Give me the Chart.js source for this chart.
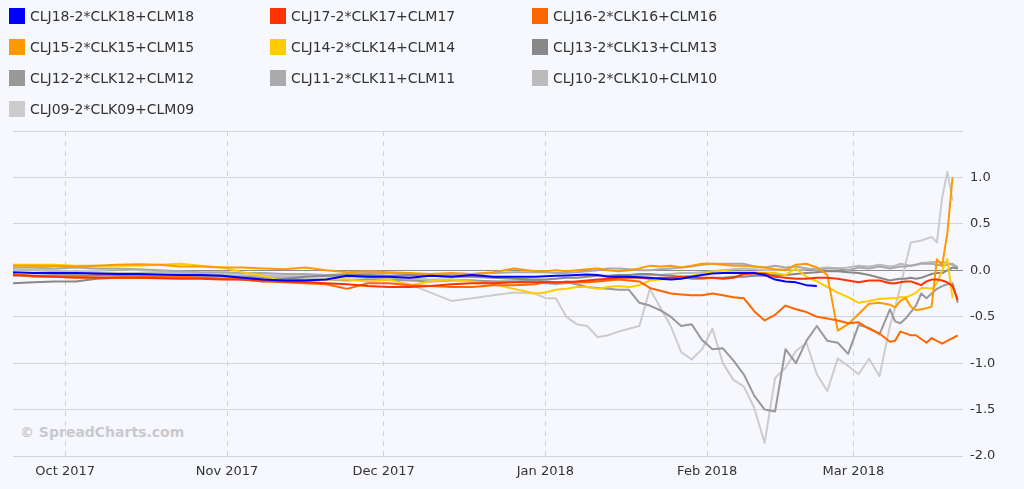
<!DOCTYPE html>
<html>
<head>
<meta charset="utf-8">
<script src="https://cdn.jsdelivr.net/npm/chart.js@4.4.1/dist/chart.umd.min.js"></script>
<style>
  html, body { margin: 0; padding: 0; background: #f7f8fd; }
  #wrap { position: relative; width: 1024px; height: 489px; overflow: hidden; }
  #mark { position: absolute; left: 20px; top: 424px; font: bold 14px "DejaVu Sans", Verdana, sans-serif; color: #c9c9ce; }
  #box { position: absolute; left: 0; top: 0; width: 1024px; height: 489px; }
  #legend { position: absolute; left: 0; top: 0; width: 1024px; height: 125px; font: 14px "DejaVu Sans", Verdana, sans-serif; color: #333; }
  .item { position: absolute; height: 16px; line-height: 16px; white-space: nowrap; }
  .item .sw { position: absolute; left: 0; top: 0; width: 16px; height: 16px; }
  .item .tx { position: absolute; left: 21px; top: 0; }
</style>
</head>
<body>
<div id="wrap">
  <div id="mark">© SpreadCharts.com</div>
  <div id="box"><canvas id="chart"></canvas></div>
  <div id="legend"></div>
</div>
<script>
// x values are calendar days counted from 2017-09-21
const days = [0, 4, 8, 12, 16, 20, 24, 28, 32, 36, 40, 44, 48, 52, 56, 60, 64, 68, 72, 76, 80, 84, 88, 92, 96, 100,
  102, 104, 106, 108, 110, 112, 114, 116, 118, 120, 122, 124, 126, 128, 130, 132, 134, 136, 138, 140, 142, 144, 146, 148,
  150, 152, 154, 156, 158, 160, 162, 164, 166, 168,
  169, 170, 171, 172, 173, 174, 175, 176, 177, 178, 179, 180, 181];

// month starts (days from 2017-09-21) and their labels
const monthDays = [10, 41, 71, 102, 133, 161];
const monthLabels = ['Oct 2017', 'Nov 2017', 'Dec 2017', 'Jan 2018', 'Feb 2018', 'Mar 2018'];

const seriesNames = ['CLJ18-2*CLK18+CLM18', 'CLJ17-2*CLK17+CLM17', 'CLJ16-2*CLK16+CLM16', 'CLJ15-2*CLK15+CLM15',
  'CLJ14-2*CLK14+CLM14', 'CLJ13-2*CLK13+CLM13', 'CLJ12-2*CLK12+CLM12', 'CLJ11-2*CLK11+CLM11',
  'CLJ10-2*CLK10+CLM10', 'CLJ09-2*CLK09+CLM09'];
const seriesColors = ['#0000ff', '#ff3300', '#ff6600', '#ff9900', '#ffcc00', '#888888', '#999999', '#aaaaaa', '#bbbbbb', '#cccccc'];

const clj18 = [-0.02, -0.03, -0.03, -0.03, -0.035, -0.04, -0.04, -0.045, -0.05, -0.05, -0.06, -0.08, -0.1, -0.11, -0.11, -0.1, -0.06, -0.07, -0.07, -0.08, -0.06, -0.07, -0.05, -0.07, -0.07, -0.07,
  -0.065, -0.06, -0.055, -0.05, -0.045, -0.05, -0.07, -0.07, -0.07, -0.075, -0.08, -0.09, -0.1, -0.09, -0.07, -0.05, -0.035, -0.03, -0.03, -0.03, -0.03, -0.05, -0.1, -0.12, -0.13, -0.16, -0.17, null, null, null, null, null, null, null,
  null, null, null, null, null, null, null, null, null, null, null, null, null];
const clj17 = [-0.05, -0.06, -0.07, -0.08, -0.08, -0.08, -0.08, -0.085, -0.09, -0.09, -0.1, -0.1, -0.11, -0.12, -0.13, -0.14, -0.15, -0.17, -0.18, -0.18, -0.17, -0.15, -0.14, -0.14, -0.13, -0.13,
  -0.13, -0.13, -0.13, -0.12, -0.11, -0.1, -0.09, -0.08, -0.08, -0.08, -0.09, -0.08, -0.08, -0.07, -0.07, -0.08, -0.08, -0.09, -0.08, -0.04, -0.035, -0.035, -0.07, -0.08, -0.09, -0.09, -0.08, -0.08, -0.09, -0.11, -0.13, -0.11, -0.11, -0.14,
  -0.14, -0.13, -0.12, -0.12, -0.14, -0.16, -0.12, -0.1, -0.1, -0.11, -0.13, -0.17, -0.32];
const clj16 = [-0.04, -0.07, -0.07, -0.07, -0.05, -0.06, -0.06, -0.07, -0.07, -0.08, -0.09, -0.1, -0.12, -0.13, -0.14, -0.15, -0.2, -0.14, -0.14, -0.16, -0.17, -0.18, -0.18, -0.16, -0.16, -0.15,
  -0.13, -0.14, -0.12, -0.13, -0.13, -0.12, -0.11, -0.1, -0.11, -0.12, -0.19, -0.22, -0.25, -0.26, -0.27, -0.27, -0.25, -0.27, -0.29, -0.3, -0.44, -0.54, -0.48, -0.38, -0.42, -0.45, -0.5, -0.52, -0.54, -0.57, -0.56, -0.63, -0.68, -0.77,
  -0.76, -0.66, -0.68, -0.7, -0.7, -0.74, -0.78, -0.73, -0.76, -0.79, -0.76, -0.73, -0.7];
const clj15 = [0.05, 0.05, 0.045, 0.04, 0.05, 0.06, 0.065, 0.06, 0.04, 0.04, 0.03, 0.03, 0.02, 0.01, 0.03, 0.0, -0.02, -0.01, -0.02, -0.03, -0.04, -0.03, -0.04, -0.02, 0.02, -0.01,
  -0.01, 0.0, -0.01, 0.0, 0.01, 0.02, 0.0, -0.01, 0.0, 0.02, 0.05, 0.04, 0.05, 0.03, 0.05, 0.07, 0.07, 0.06, 0.05, 0.05, 0.04, 0.03, 0.01, 0.0, 0.06, 0.07, 0.03, -0.05, -0.65, -0.58, -0.47, -0.36, -0.35, -0.37,
  -0.4, -0.33, -0.3, -0.39, -0.43, -0.42, -0.41, -0.39, 0.12, 0.05, 0.4, 1.0, null];
const clj14 = [0.06, 0.06, 0.06, 0.05, 0.05, 0.05, 0.05, 0.06, 0.07, 0.05, 0.03, -0.02, -0.06, -0.12, -0.12, -0.1, -0.1, -0.12, -0.1, -0.16, -0.12, -0.1, -0.12, -0.15, -0.2, -0.25,
  -0.24, -0.21, -0.2, -0.18, -0.18, -0.2, -0.18, -0.17, -0.18, -0.16, -0.11, -0.1, -0.09, -0.07, -0.06, -0.04, -0.02, 0.0, -0.02, -0.02, -0.02, -0.03, -0.03, -0.05, 0.02, -0.07, -0.12, -0.18, -0.24, -0.29, -0.35, -0.33, -0.31, -0.3,
  -0.3, -0.29, -0.29, -0.27, -0.24, -0.19, -0.19, -0.2, -0.14, 0.0, 0.12, -0.3, null];
const clj13 = [-0.14, -0.13, -0.12, -0.12, -0.09, -0.08, -0.08, -0.07, -0.07, -0.06, -0.06, -0.1, -0.12, -0.09, -0.07, -0.06, -0.05, -0.05, -0.06, -0.05, -0.06, -0.07, -0.07, -0.08, -0.09, -0.1,
  -0.1, -0.09, -0.08, -0.08, -0.07, -0.06, -0.06, -0.05, -0.05, -0.04, -0.04, -0.05, -0.06, -0.07, -0.09, -0.09, -0.08, -0.08, -0.07, -0.07, -0.06, -0.06, -0.05, -0.05, -0.04, -0.03, -0.02, -0.01, -0.01, -0.02, -0.03, -0.05, -0.08, -0.11,
  -0.1, -0.09, -0.09, -0.08, -0.09, -0.08, -0.06, -0.04, -0.03, -0.03, 0.0, 0.03, 0.02];
const clj12 = [-0.06, -0.06, -0.05, -0.05, -0.06, -0.05, -0.06, -0.06, -0.06, -0.07, -0.07, -0.07, -0.08, -0.09, -0.1, -0.1, -0.11, -0.1, -0.1, -0.11, -0.12, -0.11, -0.11, -0.12, -0.12, -0.11,
  -0.12, -0.13, -0.13, -0.15, -0.18, -0.19, -0.2, -0.21, -0.21, -0.35, -0.38, -0.43, -0.5, -0.6, -0.58, -0.75, -0.85, -0.84, -0.97, -1.12, -1.35, -1.5, -1.52, -0.85, -1.0, -0.76, -0.6, -0.76, -0.78, -0.9, -0.59, -0.62, -0.69, -0.42,
  -0.55, -0.57, -0.52, -0.45, -0.38, -0.25, -0.3, -0.25, -0.2, -0.17, -0.15, -0.14, -0.35];
const clj11 = [0.03, 0.03, 0.02, 0.03, 0.02, 0.02, 0.01, 0.0, -0.01, -0.02, -0.02, -0.03, -0.03, -0.04, -0.04, -0.05, -0.04, -0.03, -0.03, -0.04, -0.05, -0.05, -0.04, -0.03, -0.02, -0.02,
  -0.02, -0.03, -0.03, -0.02, -0.01, 0.0, 0.02, 0.02, 0.01, 0.0, 0.0, 0.01, 0.02, 0.03, 0.04, 0.06, 0.07, 0.07, 0.07, 0.07, 0.04, 0.03, 0.05, 0.03, 0.04, 0.02, 0.0, 0.02, 0.02, 0.0, 0.03, 0.02, 0.04, 0.02,
  0.03, 0.04, 0.04, 0.05, 0.06, 0.07, 0.07, 0.07, 0.06, 0.05, 0.06, 0.07, 0.02];
const clj10 = [0.01, 0.0, -0.01, -0.02, -0.02, -0.03, -0.03, -0.02, -0.03, -0.04, -0.05, -0.06, -0.06, -0.07, -0.07, -0.06, -0.06, -0.07, -0.08, -0.09, -0.1, -0.1, -0.11, -0.12, -0.12, -0.13,
  -0.14, -0.15, -0.14, -0.13, -0.12, -0.11, -0.1, -0.08, -0.07, -0.06, -0.05, -0.05, -0.04, -0.03, -0.03, -0.02, -0.01, 0.0, 0.01, 0.02, 0.01, 0.0, 0.0, 0.01, 0.0, 0.01, 0.02, 0.03, 0.02, 0.03, 0.05, 0.04, 0.06, 0.04,
  0.05, 0.07, 0.06, 0.05, 0.06, 0.08, 0.08, 0.09, 0.09, 0.09, 0.08, 0.06, 0.04];
const clj09 = [0.0, 0.01, 0.0, -0.01, 0.0, 0.01, 0.0, -0.01, -0.02, -0.03, -0.03, -0.04, -0.05, -0.06, -0.06, -0.07, -0.08, -0.08, -0.1, -0.15, -0.24, -0.33, -0.3, -0.27, -0.24, -0.25,
  -0.3, -0.3, -0.5, -0.58, -0.6, -0.72, -0.7, -0.66, -0.63, -0.6, -0.2, -0.4, -0.6, -0.88, -0.96, -0.85, -0.63, -1.0, -1.18, -1.25, -1.48, -1.86, -1.16, -1.05, -0.87, -0.78, -1.12, -1.3, -0.95, -1.03, -1.12, -0.95, -1.14, -0.6,
  -0.4, -0.18, 0.07, 0.3, 0.31, 0.32, 0.34, 0.36, 0.3, 0.78, 1.06, 0.75, null];

const seriesValues = [clj18, clj17, clj16, clj15, clj14, clj13, clj12, clj11, clj10, clj09];

const axisFont = { family: '"DejaVu Sans", Verdana, sans-serif', size: 13 };

const chart = new Chart(document.getElementById('chart'), {
  type: 'line',
  data: {
    datasets: seriesNames.map((name, i) => ({
      label: name,
      data: days.map((d, j) => ({ x: d, y: seriesValues[i][j] })),
      borderColor: seriesColors[i],
      backgroundColor: seriesColors[i],
      borderWidth: 2,
      pointRadius: 0,
      tension: 0,
      fill: false,
      borderJoinStyle: 'round'
    }))
  },
  options: {
    responsive: true,
    maintainAspectRatio: false,
    animation: false,
    layout: { padding: { left: 13, top: 131, right: 0, bottom: 0 } },
    plugins: {
      legend: { display: false },
      tooltip: { enabled: false }
    },
    scales: {
      x: {
        type: 'linear',
        min: 0,
        max: 182,
        afterBuildTicks: scale => { scale.ticks = monthDays.map(v => ({ value: v })); },
        afterFit: scale => { scale.height = 33; },
        border: { display: false, dash: [5, 5] },
        grid: { color: '#cfd0d8', drawTicks: false },
        ticks: {
          padding: 8,
          color: '#333',
          font: axisFont,
          maxRotation: 0,
          autoSkip: false,
          callback: v => monthLabels[monthDays.indexOf(v)]
        }
      },
      y: {
        position: 'right',
        min: -2,
        max: 1.5,
        afterFit: scale => { scale.width = 61; },
        border: { display: false },
        grid: {
          drawTicks: false,
          color: ctx => (ctx.tick && ctx.tick.value === 0) ? '#8c8c8c' : '#d3d4dc'
        },
        ticks: {
          stepSize: 0.5,
          padding: 7,
          color: '#333',
          font: axisFont,
          callback: v => v === 1.5 ? '' : v.toFixed(1)
        }
      }
    }
  }
});

// legend in three fixed columns, like the original
const legendCols = [9, 270, 532];
const legendRows = [8, 39, 70, 101];
const legendEl = document.getElementById('legend');
chart.data.datasets.forEach((ds, i) => {
  const item = document.createElement('div');
  item.className = 'item';
  item.style.left = legendCols[i % 3] + 'px';
  item.style.top = legendRows[Math.floor(i / 3)] + 'px';
  item.innerHTML = '<span class="sw" style="background:' + ds.borderColor + '"></span><span class="tx">' + ds.label + '</span>';
  legendEl.appendChild(item);
});
</script>
</body>
</html>
